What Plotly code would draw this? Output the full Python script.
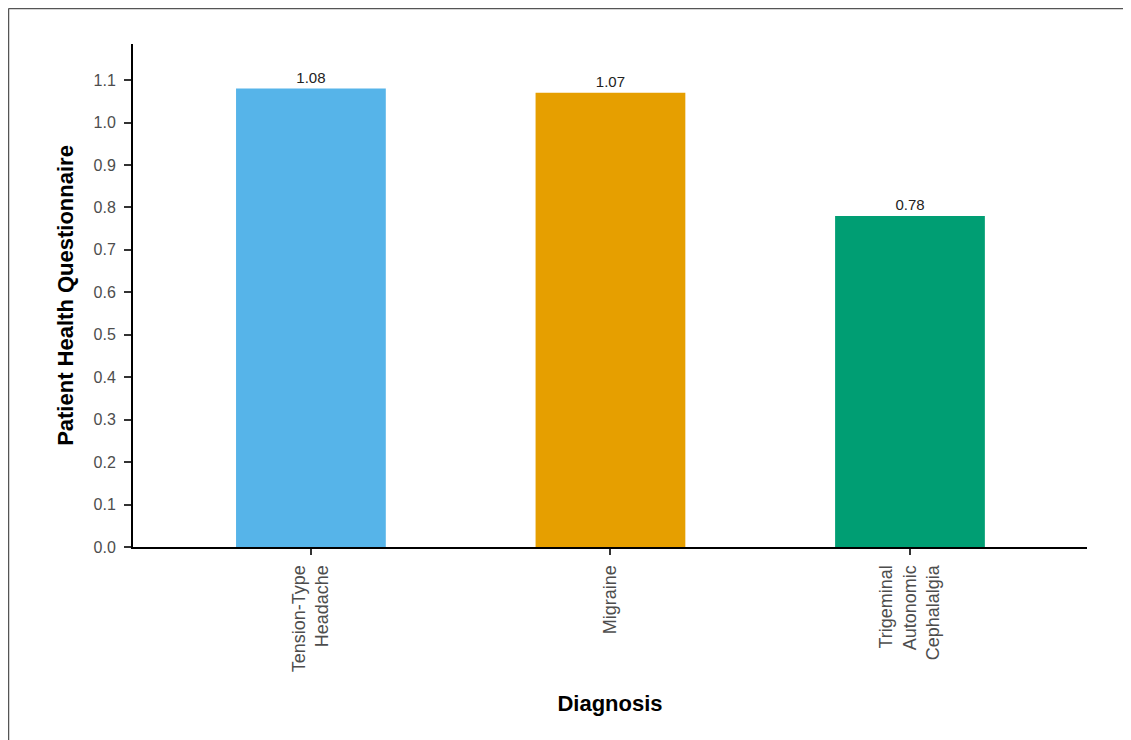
import plotly.graph_objects as go

categories = ["Tension-Type<br>Headache", "Migraine", "Trigeminal<br>Autonomic<br>Cephalalgia"]
values = [1.08, 1.07, 0.78]
labels = ["1.08", "1.07", "0.78"]
colors = ["#56B4E9", "#E69F00", "#009E73"]
y_ticks = [0.0, 0.1, 0.2, 0.3, 0.4, 0.5, 0.6, 0.7, 0.8, 0.9, 1.0, 1.1]

fig = go.Figure()
fig.add_trace(go.Bar(
    x=categories, y=values, marker=dict(color=colors, line=dict(width=0)),
    width=0.5, text=labels, textposition="outside", cliponaxis=False,
    textfont=dict(size=15, color="#222222", family="Liberation Sans, Arial"),
))

fig.update_layout(
    width=1131, height=740,
    margin=dict(l=125, r=52, t=36, b=201),
    paper_bgcolor="white", plot_bgcolor="white",
    font=dict(family="Liberation Sans, Arial", color="#4d4d4d"),
    showlegend=False,
    xaxis=dict(
        range=[-0.594, 2.591], showline=True, linecolor="black", linewidth=2,
        ticks="outside", ticklen=6, tickcolor="#333", tickwidth=1.5,
        ticklabelstandoff=3,
        tickangle=-90, tickfont=dict(size=18, color="#4d4d4d"),
        title=dict(text="<b>Diagnosis</b>", font=dict(size=22, color="black"), standoff=24),
        showgrid=False, zeroline=False,
    ),
    yaxis=dict(
        range=[0, 1.185], showline=True, linecolor="black", linewidth=2,
        tickvals=y_ticks, ticktext=[f"{v:.1f}" for v in y_ticks],
        ticks="outside", ticklen=7, tickcolor="#333", tickwidth=1.5,
        ticklabelstandoff=5,
        tickfont=dict(size=16, color="#4d4d4d"),
        title=dict(text="<b>Patient Health Questionnaire</b>", font=dict(size=22, color="black"), standoff=14),
        showgrid=False, zeroline=False,
    ),
    bargap=0.5,
)

# frame lines (top and left edges only), kept inside the figure area
fig.add_shape(type="line", xref="paper", yref="paper",
              x0=-0.1305, x1=1.054, y0=1.0706, y1=1.0706,
              line=dict(color="#555555", width=1.5), layer="below")
fig.add_shape(type="line", xref="paper", yref="paper",
              x0=-0.1305, x1=-0.1305, y0=-0.399, y1=1.0706,
              line=dict(color="#555555", width=1.5), layer="below")

fig.write_html("out.html")
